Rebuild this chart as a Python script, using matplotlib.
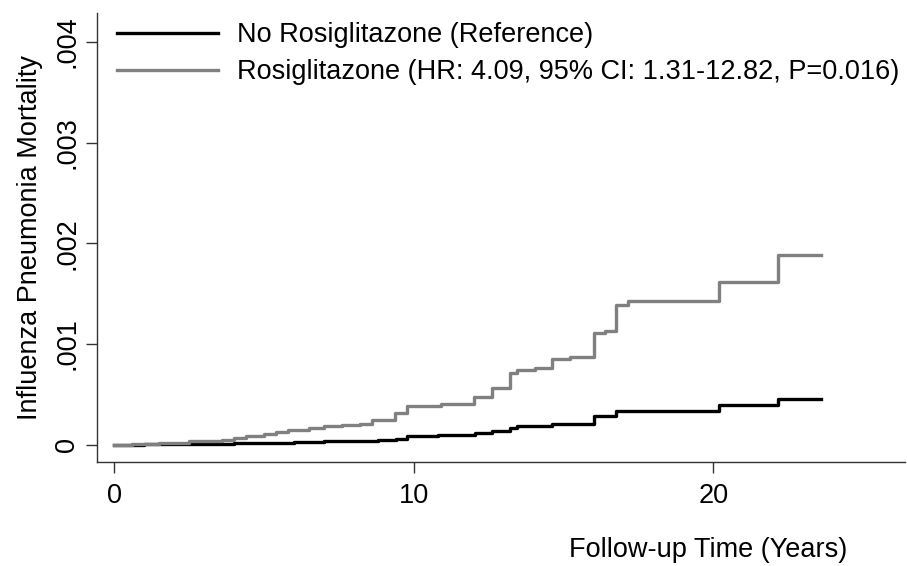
import matplotlib
matplotlib.use("Agg")
import matplotlib.pyplot as plt

plt.rcParams['font.family'] = ['Liberation Sans', 'DejaVu Sans']

# step times (years) and cumulative mortality after each step
t_ref = [0, 1.0, 2.0, 3.0, 4.0, 5.0, 6.0, 7.0, 8.0, 8.8, 9.4, 9.76, 10.8, 12.03,
         12.6, 13.2, 13.44, 14.6, 16.0, 16.75, 17.1, 20.2, 22.15, 23.6]
y_ref = [0, 0.000003, 0.000006, 0.00001, 0.000014, 0.00002, 0.000027, 0.000033,
         0.00004, 0.00005, 0.000058, 0.000085, 0.000095, 0.000116, 0.00013,
         0.000166, 0.000185, 0.000209, 0.000281, 0.000333, 0.000338, 0.00039,
         0.000454, 0.000454]

t_rosi = [0, 0.6, 1.5, 2.5, 3.0, 3.6, 4.0, 4.4, 5.0, 5.4, 5.8, 6.5, 7.0, 7.6,
          8.2, 8.6, 9.37, 9.76, 10.9, 12.0, 12.6, 13.2, 13.44, 14.03, 14.6,
          15.2, 16.0, 16.37, 16.75, 17.15, 20.2, 22.15, 23.6]
y_rosi = [0, 0.00001, 0.00002, 0.000033, 0.00004, 0.00005, 0.000065, 0.000083,
          0.000105, 0.00012, 0.000142, 0.00016, 0.000182, 0.000195, 0.000208,
          0.000248, 0.000315, 0.00038, 0.0004, 0.00047, 0.000563, 0.000712,
          0.000745, 0.000762, 0.000851, 0.000867, 0.00111, 0.001125, 0.00139,
          0.001423, 0.00161, 0.001887, 0.001887]

labels = ['No Rosiglitazone (Reference)',
          'Rosiglitazone (HR: 4.09, 95% CI: 1.31-12.82, P=0.016)']
xticks = [0, 10, 20]
yticks = [0, 0.001, 0.002, 0.003, 0.004]
ytick_labels = ['0', '.001', '.002', '.003', '.004']

fs = 19.5

fig = plt.figure(figsize=(9.07, 5.66), dpi=100)
ax = fig.add_axes([0.107, 0.184, 0.891, 0.793])

ax.plot(t_ref, y_ref, drawstyle='steps-post', color='black', lw=2.4, label=labels[0])
ax.plot(t_rosi, y_rosi, drawstyle='steps-post', color='#808080', lw=2.4, label=labels[1])

ax.set_xlim(-0.57, 26.4)
ax.set_ylim(-0.000172, 0.004287)
ax.set_xticks(xticks)
ax.set_yticks(yticks)
ax.set_yticklabels(ytick_labels, rotation=90, va='center')

for s in ['top', 'right']:
    ax.spines[s].set_visible(False)
for s in ['left', 'bottom']:
    ax.spines[s].set_color('#333333')
    ax.spines[s].set_linewidth(1.0)

ax.tick_params(axis='both', labelsize=fs, length=8, width=1, color='#333333')
ax.tick_params(axis='x', pad=7)
ax.tick_params(axis='y', pad=4)

ax.set_ylabel('Influenza Pneumonia Mortality', fontsize=fs, labelpad=8)
fig.text(847 / 907, 9 / 566, 'Follow-up Time (Years)', fontsize=fs,
         ha='right', va='baseline')

ax.legend(loc='upper left', bbox_to_anchor=(0.0248, 0.979), frameon=False,
          fontsize=fs, handlelength=3.73, handletextpad=0.7, labelspacing=0.4,
          borderpad=0, borderaxespad=0)

fig.savefig('out.png', dpi=100)
